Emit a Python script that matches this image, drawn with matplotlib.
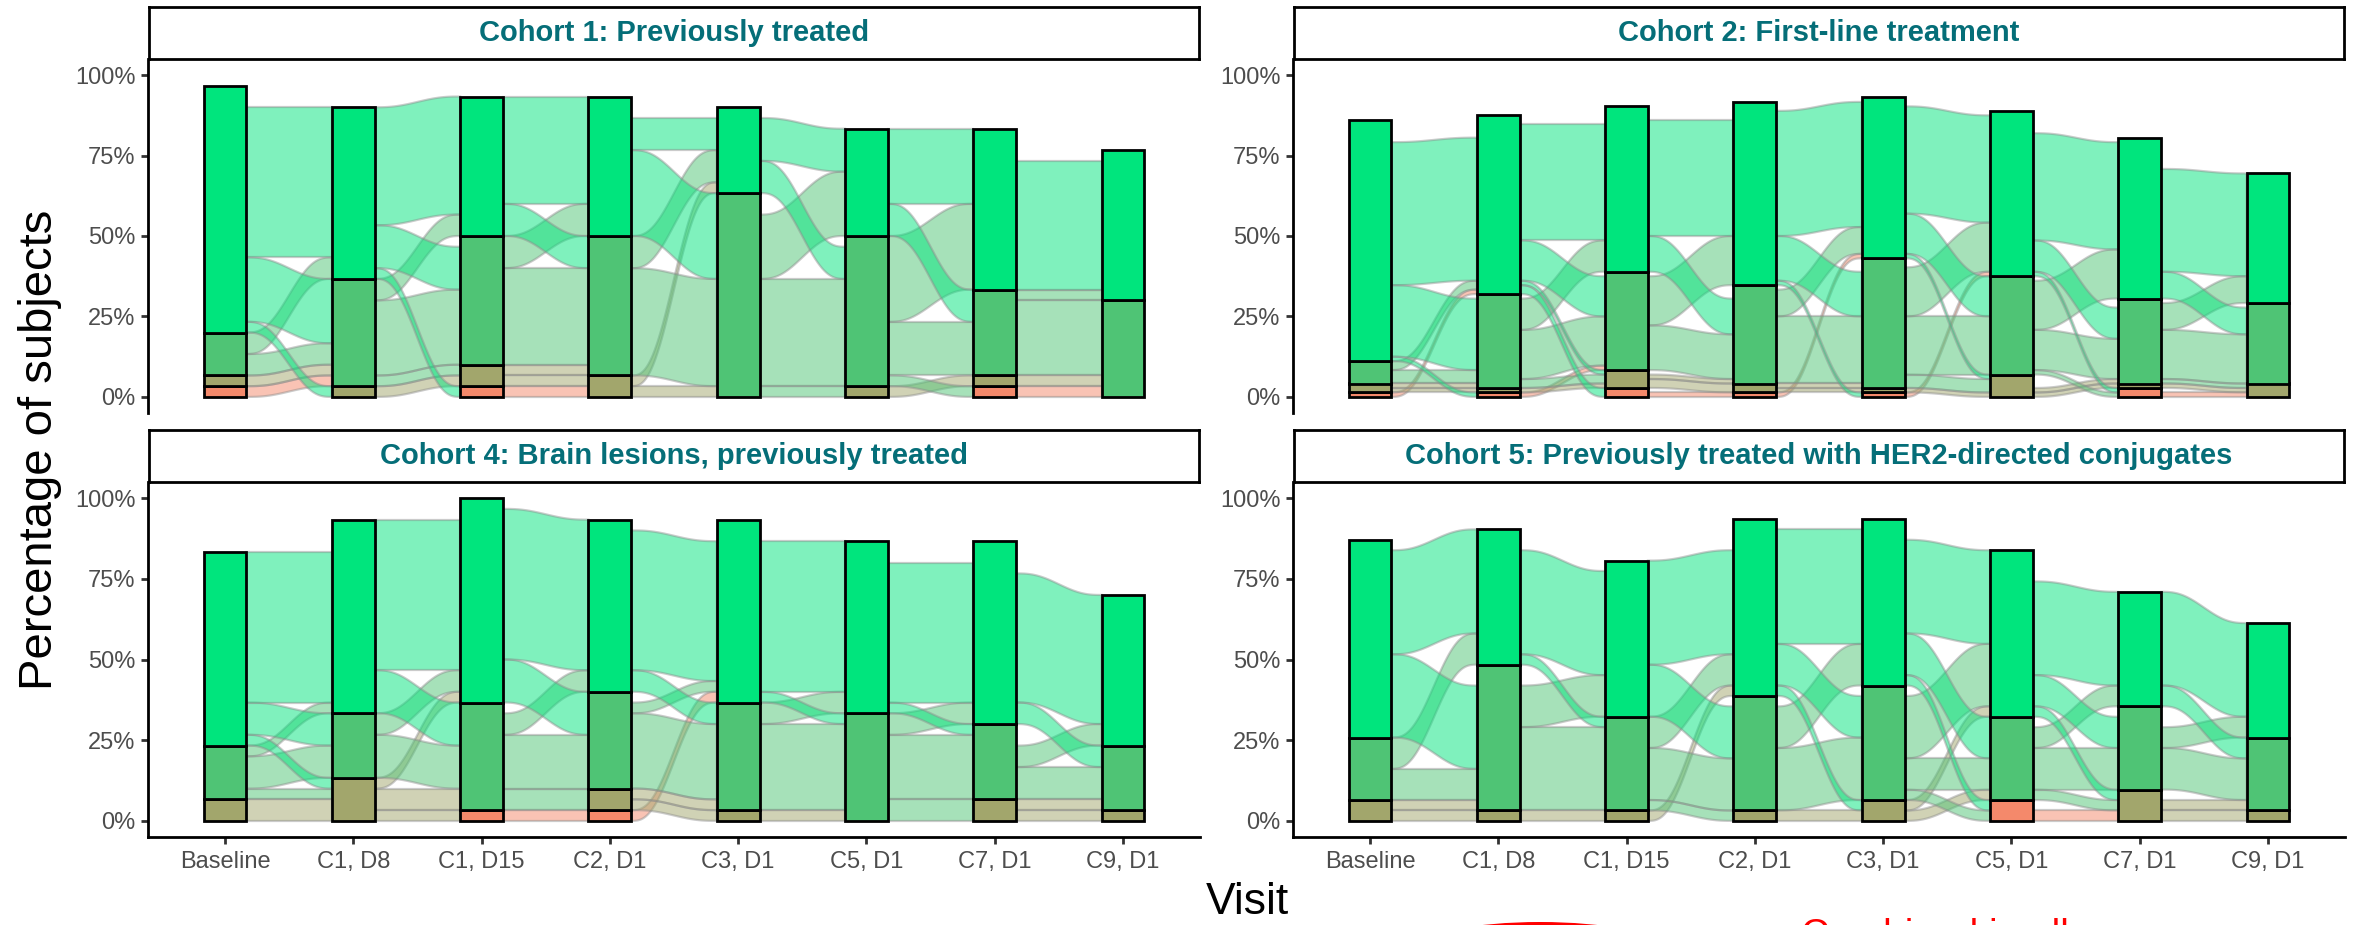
import matplotlib
matplotlib.use("Agg")
import matplotlib.pyplot as plt
from matplotlib.patches import Polygon, Rectangle, Ellipse
import numpy as np

plt.rcParams["font.family"] = ["Liberation Sans", "DejaVu Sans"]

visits = ["Baseline", "C1, D8", "C1, D15", "C2, D1", "C3, D1", "C5, D1", "C7, D1", "C9, D1"]
# strata listed bottom to top; subjects missing at a visit sit (invisibly) above them
strata = ["S4", "S3", "S2", "S1"]
strata_colors = ["#F4896B", "#A2A66C", "#4FC475", "#00E57D"]

titles = ["Cohort 1: Previously treated",
          "Cohort 2: First-line treatment",
          "Cohort 4: Brain lesions, previously treated",
          "Cohort 5: Previously treated with HER2-directed conjugates"]

# subjects per cohort
c1_n = 30
c2_n = 72
c4_n = 30
c5_n = 31

# subjects in each stratum, one row per visit (bottom -> top)
c1_counts = [[1, 1, 4, 23], [0, 1, 10, 16], [1, 2, 12, 13], [0, 2, 13, 13],
             [0, 0, 19, 8], [0, 1, 14, 10], [1, 1, 8, 15], [0, 0, 9, 14]]
c2_counts = [[1, 2, 5, 54], [1, 1, 21, 40], [2, 4, 22, 37], [1, 2, 22, 41],
             [1, 1, 29, 36], [0, 5, 22, 37], [2, 1, 19, 36], [0, 3, 18, 29]]
c4_counts = [[0, 2, 5, 18], [0, 4, 6, 18], [1, 0, 10, 19], [1, 2, 9, 16],
             [0, 1, 10, 17], [0, 0, 10, 16], [0, 2, 7, 17], [0, 1, 6, 14]]
c5_counts = [[0, 2, 6, 19], [0, 1, 14, 13], [0, 1, 9, 15], [0, 1, 11, 17],
             [0, 2, 11, 16], [2, 0, 8, 16], [0, 3, 8, 11], [0, 1, 7, 11]]

# transitions between consecutive visits: flows[t][from][to]
c1_flows = [
    [[0, 0, 1, 0], [0, 0, 1, 0], [0, 0, 2, 2], [0, 1, 6, 14]],
    [[0, 0, 0, 0], [0, 1, 0, 0], [0, 1, 7, 2], [1, 0, 4, 11]],
    [[0, 1, 0, 0], [0, 1, 1, 0], [0, 0, 9, 3], [0, 0, 3, 10]],
    [[0, 0, 0, 0], [0, 0, 1, 1], [0, 0, 10, 3], [0, 0, 8, 3]],
    [[0, 0, 0, 0], [0, 0, 0, 0], [0, 1, 10, 6], [0, 0, 3, 4]],
    [[0, 0, 0, 0], [0, 1, 0, 0], [1, 0, 5, 8], [0, 0, 3, 7]],
    [[0, 0, 1, 0], [0, 0, 1, 0], [0, 0, 7, 1], [0, 0, 0, 12]],
]
c2_flows = [
    [[0, 0, 0, 1], [0, 1, 1, 0], [0, 0, 3, 2], [1, 0, 16, 32]],
    [[0, 0, 1, 0], [0, 1, 0, 0], [0, 2, 11, 7], [2, 1, 9, 26]],
    [[1, 0, 0, 0], [0, 2, 1, 0], [0, 0, 10, 11], [0, 0, 8, 26]],
    [[0, 0, 0, 1], [0, 1, 1, 0], [0, 0, 15, 6], [1, 0, 10, 28]],
    [[0, 0, 0, 1], [0, 1, 0, 0], [0, 3, 13, 11], [0, 1, 9, 24]],
    [[0, 0, 0, 0], [0, 1, 1, 0], [1, 0, 9, 11], [1, 0, 7, 24]],
    [[0, 1, 0, 0], [0, 1, 0, 0], [0, 1, 11, 6], [0, 0, 6, 23]],
]
c4_flows = [
    [[0, 0, 0, 0], [0, 2, 0, 0], [0, 1, 3, 1], [0, 1, 3, 14]],
    [[0, 0, 0, 0], [1, 0, 2, 1], [0, 0, 4, 2], [0, 0, 4, 14]],
    [[1, 0, 0, 0], [0, 0, 0, 0], [0, 2, 5, 2], [0, 0, 4, 14]],
    [[0, 0, 0, 1], [0, 1, 1, 0], [0, 0, 7, 1], [0, 0, 2, 13]],
    [[0, 0, 0, 0], [0, 0, 1, 0], [0, 0, 8, 2], [0, 0, 1, 14]],
    [[0, 0, 0, 0], [0, 0, 0, 0], [0, 2, 6, 2], [0, 0, 1, 13]],
    [[0, 0, 0, 0], [0, 1, 1, 0], [0, 0, 3, 2], [0, 0, 2, 12]],
]
c5_flows = [
    [[0, 0, 0, 0], [0, 1, 1, 0], [0, 0, 3, 3], [0, 0, 8, 10]],
    [[0, 0, 0, 0], [0, 1, 0, 0], [0, 0, 8, 4], [0, 0, 1, 10]],
    [[0, 0, 0, 0], [0, 0, 0, 1], [0, 1, 5, 3], [0, 0, 5, 10]],
    [[0, 0, 0, 0], [0, 1, 0, 0], [0, 0, 6, 4], [0, 1, 4, 11]],
    [[0, 0, 0, 0], [0, 0, 1, 1], [1, 0, 3, 6], [1, 0, 4, 9]],
    [[0, 1, 0, 0], [0, 0, 0, 0], [0, 1, 4, 2], [0, 1, 3, 9]],
    [[0, 0, 0, 0], [0, 1, 1, 0], [0, 0, 4, 2], [0, 0, 2, 9]],
]

cohorts = [(c1_n, c1_counts, c1_flows), (c2_n, c2_counts, c2_flows),
           (c4_n, c4_counts, c4_flows), (c5_n, c5_counts, c5_flows)]

BAR_W = 1 / 3
TEAL = "#056E78"
TICK_GREY = "#4D4D4D"


def ease(s):
    return s ** 3 * (10 - 15 * s + 6 * s ** 2)


def draw_flow(ax, x0, x1, b0, t0, b1, t1, color):
    s = np.linspace(0, 1, 60)
    f = ease(s)
    xs = x0 + (x1 - x0) * s
    top = t0 + (t1 - t0) * f
    bot = b0 + (b1 - b0) * f
    pts = np.column_stack([np.r_[xs, xs[::-1]], np.r_[top, bot[::-1]]])
    ax.add_patch(Polygon(pts, closed=True, facecolor=matplotlib.colors.to_rgba(color, 0.5),
                         edgecolor=(0.55, 0.55, 0.55, 0.45), lw=1.6, zorder=2))


def draw_alluvium(ax, n, counts, flows):
    counts = np.array(counts, dtype=float)
    base = np.cumsum(counts, axis=1) - counts
    for t, mat in enumerate(flows):
        mat = np.array(mat, dtype=float)
        x0 = t + 1 + BAR_W / 2
        x1 = t + 2 - BAR_W / 2
        for i in range(4):
            for j in range(4):
                h = mat[i, j]
                if h == 0:
                    continue
                y0 = base[t, i] + mat[i, :j].sum()
                y1 = base[t + 1, j] + mat[:i, j].sum()
                draw_flow(ax, x0, x1, y0 / n, (y0 + h) / n, y1 / n, (y1 + h) / n,
                          strata_colors[i])
    for t in range(len(visits)):
        for k in range(4):
            if counts[t, k] == 0:
                continue
            ax.add_patch(Rectangle((t + 1 - BAR_W / 2, base[t, k] / n), BAR_W, counts[t, k] / n,
                                   facecolor=strata_colors[k], edgecolor="black", lw=2.0, zorder=3))


W, H = 2353, 925
fig = plt.figure(figsize=(W / 100, H / 100), dpi=100)

col_x = [148, 1293]
row_y = [(59, 413), (482, 837)]
panel_w = 1052

for idx, (n, counts, flows) in enumerate(cohorts):
    r, c = divmod(idx, 2)
    top, bottom = row_y[r]
    ax = fig.add_axes([col_x[c] / W, (H - bottom) / H, panel_w / W, (bottom - top) / H])
    draw_alluvium(ax, n, counts, flows)
    ax.set_xlim(0.4, 8.6)
    ax.set_ylim(-0.05, 1.05)
    ax.spines["top"].set_visible(False)
    ax.spines["right"].set_visible(False)
    ax.spines["left"].set_linewidth(2.0)
    ax.set_yticks([0, 0.25, 0.5, 0.75, 1.0])
    ax.set_yticklabels(["0%", "25%", "50%", "75%", "100%"])
    ax.tick_params(axis="y", length=5, width=2, color="#333333", labelsize=17,
                   labelcolor=TICK_GREY, pad=4)
    if r == 0:
        ax.spines["bottom"].set_visible(False)
        ax.set_xticks([])
    else:
        ax.spines["bottom"].set_linewidth(2.0)
        ax.set_xticks(range(1, len(visits) + 1))
        ax.set_xticklabels(visits)
        ax.tick_params(axis="x", length=5, width=2, color="#333333", labelsize=17,
                       labelcolor=TICK_GREY, pad=5)

    # facet strip
    sax = fig.add_axes([(col_x[c] + 1) / W, (H - top) / H, (panel_w - 2) / W, 52 / H])
    sax.set_xticks([])
    sax.set_yticks([])
    for sp in sax.spines.values():
        sp.set_linewidth(2.0)
    sax.text(0.5, 0.5, titles[idx], ha="center", va="center", fontsize=21,
             fontweight="bold", color=TEAL, transform=sax.transAxes)

fig.text(40 / W, (H - 450) / H, "Percentage of subjects", rotation=90, ha="center",
         va="center", fontsize=34)
fig.text(1247 / W, (H - 902) / H, "Visit", ha="center", va="center", fontsize=32)

# annotation cut off by the lower edge of the figure
fig.add_artist(Ellipse((1540 / W, (H - 947) / H), 240 / W, 50 / H, transform=fig.transFigure,
                       facecolor="red", edgecolor="none"))
fig.text(1801 / W, (H - 946) / H, "Combined in all", color="red", fontsize=28,
         ha="left", va="baseline")

fig.savefig("out.png", dpi=100)
